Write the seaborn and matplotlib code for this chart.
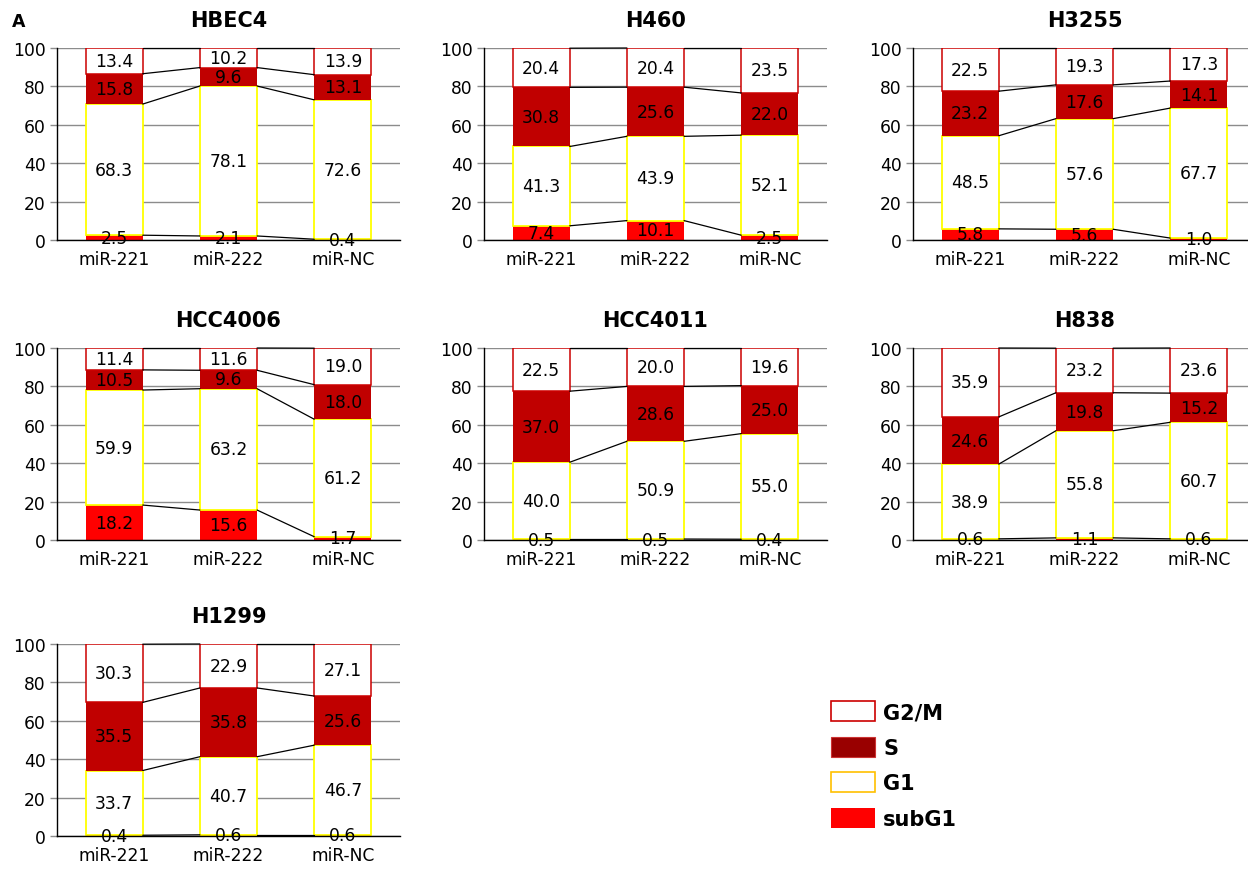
import numpy as np
import matplotlib
matplotlib.use("Agg")
import matplotlib.pyplot as plt
from matplotlib.patches import Patch
import seaborn as sns

sns.set_style("white")
plt.rcParams["font.family"] = ["DejaVu Sans"]
plt.rcParams["text.color"] = "black"
plt.rcParams["xtick.color"] = "black"
plt.rcParams["ytick.color"] = "black"
plt.rcParams["axes.labelcolor"] = "black"
plt.rcParams["axes.titlecolor"] = "black"

conditions = ["miR-221", "miR-222", "miR-NC"]
phases = ["subG1", "G1", "S", "G2/M"]

cell_lines = ["HBEC4", "H460", "H3255", "HCC4006", "HCC4011", "H838", "H1299"]

subg1 = {
    "HBEC4": [2.5, 2.1, 0.4],
    "H460": [7.4, 10.1, 2.5],
    "H3255": [5.8, 5.6, 1.0],
    "HCC4006": [18.2, 15.6, 1.7],
    "HCC4011": [0.5, 0.5, 0.4],
    "H838": [0.6, 1.1, 0.6],
    "H1299": [0.4, 0.6, 0.6],
}
g1 = {
    "HBEC4": [68.3, 78.1, 72.6],
    "H460": [41.3, 43.9, 52.1],
    "H3255": [48.5, 57.6, 67.7],
    "HCC4006": [59.9, 63.2, 61.2],
    "HCC4011": [40.0, 50.9, 55.0],
    "H838": [38.9, 55.8, 60.7],
    "H1299": [33.7, 40.7, 46.7],
}
s_phase = {
    "HBEC4": [15.8, 9.6, 13.1],
    "H460": [30.8, 25.6, 22.0],
    "H3255": [23.2, 17.6, 14.1],
    "HCC4006": [10.5, 9.6, 18.0],
    "HCC4011": [37.0, 28.6, 25.0],
    "H838": [24.6, 19.8, 15.2],
    "H1299": [35.5, 35.8, 25.6],
}
g2m = {
    "HBEC4": [13.4, 10.2, 13.9],
    "H460": [20.4, 20.4, 23.5],
    "H3255": [22.5, 19.3, 17.3],
    "HCC4006": [11.4, 11.6, 19.0],
    "HCC4011": [22.5, 20.0, 19.6],
    "H838": [35.9, 23.2, 23.6],
    "H1299": [30.3, 22.9, 27.1],
}

# fill / edge for each phase
styles = {
    "subG1": dict(color="#FF0000", edgecolor="#FF0000", linewidth=0.0),
    "G1": dict(color="white", edgecolor="#FFFF00", linewidth=1.3),
    "S": dict(color="#C00000", edgecolor="#C00000", linewidth=0.0),
    "G2/M": dict(color="white", edgecolor="#CC0000", linewidth=1.1),
}

BAR_W = 0.5
W, H = 1248, 870
fig = plt.figure(figsize=(W / 100, H / 100), dpi=100)

col_left = [57, 484, 913]
row_top = [49, 349, 645]
ax_w, ax_h = 343, 192

LABEL_SIZE = 12.3


def panel(ax, name):
    series = {"subG1": subg1[name], "G1": g1[name], "S": s_phase[name], "G2/M": g2m[name]}
    bottom = np.zeros(len(conditions))
    tops = []
    for ph in phases:
        vals = np.array(series[ph], dtype=float)
        st = styles[ph]
        sns.barplot(x=conditions, y=vals, order=conditions, bottom=bottom,
                    width=BAR_W, saturation=1, ax=ax, zorder=2,
                    color=st["color"], edgecolor=st["edgecolor"],
                    linewidth=st["linewidth"])
        for i, v in enumerate(vals):
            ax.text(i, bottom[i] + v / 2, f"{v:.1f}", ha="center", va="center",
                    fontsize=LABEL_SIZE, color="black", zorder=5)
        bottom = bottom + vals
        tops.append(bottom.copy())
    # series lines joining segment tops between neighbouring bars
    for t in tops:
        for i in range(len(conditions) - 1):
            ax.plot([i + BAR_W / 2, i + 1 - BAR_W / 2], [min(t[i], 100), min(t[i + 1], 100)],
                    color="black", lw=0.9, zorder=3, clip_on=False)
    ax.set_ylim(0, 100)
    ax.set_xlim(-0.5, 2.5)
    ax.set_yticks([0, 20, 40, 60, 80, 100])
    ax.yaxis.grid(True, color="#8c8c8c", lw=1.0, zorder=0)
    ax.set_axisbelow(True)
    ax.set_xlabel("")
    ax.set_ylabel("")
    for side in ["top", "right"]:
        ax.spines[side].set_visible(False)
    for side in ["left", "bottom"]:
        ax.spines[side].set_visible(True)
        ax.spines[side].set_color("black")
        ax.spines[side].set_linewidth(1.0)
    ax.tick_params(axis="y", length=5, width=1, color="#8c8c8c", labelcolor="black",
                   labelsize=LABEL_SIZE, pad=3, left=True)
    ax.tick_params(axis="x", length=0, labelsize=LABEL_SIZE, labelcolor="black", pad=7)
    ax.set_title(name, fontsize=15, fontweight="bold", pad=16, color="black")


positions = [(0, 0), (0, 1), (0, 2), (1, 0), (1, 1), (1, 2), (2, 0)]
for name, (r, c) in zip(cell_lines, positions):
    left = col_left[c] / W
    bottom = 1 - (row_top[r] + ax_h) / H
    ax = fig.add_axes([left, bottom, ax_w / W, ax_h / H])
    panel(ax, name)

fig.text(12 / W, 1 - 22 / H, "A", fontsize=12.5, fontweight="bold", va="center", ha="left")

handles = [
    Patch(facecolor="white", edgecolor="#CC0000", linewidth=1.2, label="G2/M"),
    Patch(facecolor="#990000", edgecolor="#CC3333", linewidth=0.8, label="S"),
    Patch(facecolor="white", edgecolor="#FFC000", linewidth=1.2, label="G1"),
    Patch(facecolor="#FF0000", edgecolor="#FF0000", linewidth=0.0, label="subG1"),
]
fig.legend(handles=handles, loc="upper left", bbox_to_anchor=(831 / W, 1 - 702 / H),
           frameon=False, prop=dict(weight="bold", size=15), handlelength=2.1,
           handleheight=1.1, handletextpad=0.4, labelspacing=0.7,
           borderpad=0, borderaxespad=0)

fig.savefig("out.png", dpi=100)
